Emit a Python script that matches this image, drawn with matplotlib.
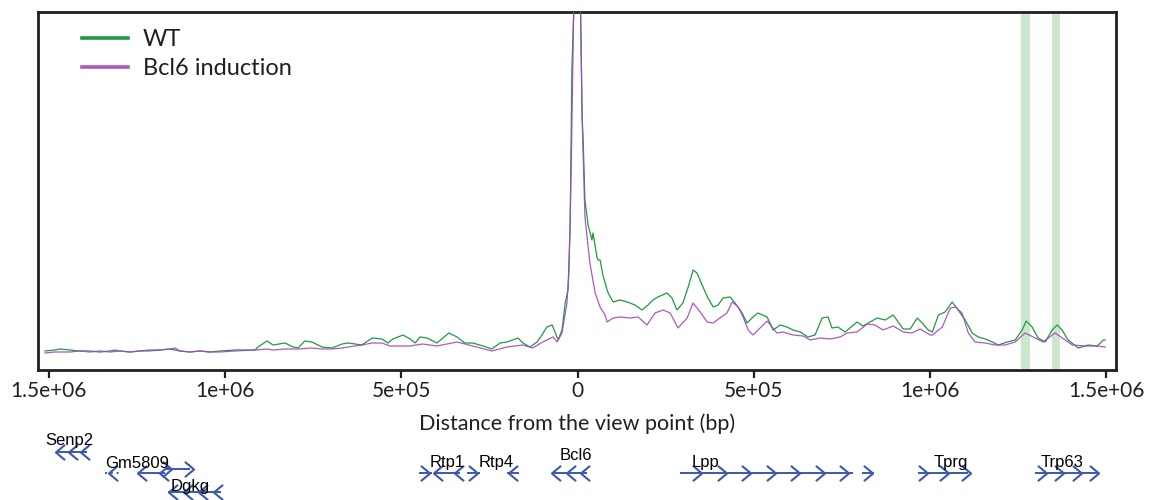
import numpy as np
import matplotlib
matplotlib.use("Agg")
import matplotlib.pyplot as plt
from matplotlib.path import Path

plt.rcParams['font.family'] = ['Lato', 'DejaVu Sans']

# ---------------- data (positions in kb from the view point, signal in arbitrary units) -------------
wt_pos = [-1511, -1483, -1469, -1441, -1413, -1384, -1356, -1327, -1313, -1299, -1270, -1242, -1214,
          -1185, -1157, -1128, -1100, -1072, -1043, -1015, -972, -915, -907, -881, -864, -830, -807,
          -793, -774, -754, -725, -697, -668, -651, -612, -583, -555, -538, -524, -495, -475, -461,
          -447, -427, -399, -382, -365, -342, -320, -297, -268, -243, -220, -200, -169, -155, -135,
          -115, -101, -87, -72, -64, -55, -44, -35, -27, -21, -16, -7, 0, 7, 13, 16, 21, 30, 41, 44,
          55, 58, 64, 72, 84, 87, 101, 121, 141, 163, 183, 200, 214, 228, 254, 268, 282, 299, 314,
          328, 339, 356, 370, 385, 399, 413, 433, 447, 467, 481, 498, 512, 538, 555, 575, 594, 612,
          632, 654, 674, 694, 711, 722, 739, 759, 773, 793, 810, 830, 850, 873, 896, 910, 924, 944,
          964, 978, 995, 1007, 1024, 1043, 1063, 1080, 1100, 1120, 1137, 1157, 1177, 1194, 1219,
          1242, 1262, 1273, 1290, 1307, 1327, 1347, 1361, 1375, 1392, 1421, 1449, 1475, 1492, 1497]
wt_val = [19, 20, 21, 20, 19, 19, 18, 19, 20, 19, 18, 19, 20,
          20, 21, 19, 18, 19, 18, 19, 20, 20, 23, 29, 25, 27, 23,
          22, 29, 28, 23, 22, 26, 27, 25, 32, 31, 27, 31, 35, 31, 27,
          33, 32, 27, 32, 37, 33, 27, 27, 24, 21, 27, 28, 32, 27, 23,
          28, 35, 43, 45, 38, 30, 40, 67, 80, 143, 300, 400, 420, 400, 253, 230, 170, 145, 130, 137,
          113, 110, 110, 95, 80, 77, 68, 70, 68, 65, 60, 65, 70, 73, 77, 72, 60, 67, 83,
          100, 97, 83, 72, 63, 65, 72, 73, 67, 57, 47, 53, 57, 53, 40, 45, 43, 40,
          38, 33, 35, 52, 53, 42, 43, 38, 42, 48, 44, 48, 52, 50, 55, 48, 41, 41,
          52, 47, 40, 38, 55, 58, 68, 60, 50, 37, 33, 31, 28, 25, 28,
          30, 40, 49, 43, 32, 28, 40, 45, 40, 30, 22, 25, 24, 30, 30]

bcl6_pos = [-1511, -1483, -1441, -1413, -1384, -1356, -1327, -1299, -1270, -1242, -1214, -1185, -1157,
            -1142, -1128, -1100, -1072, -1043, -1015, -972, -915, -881, -864, -830, -793, -754, -725,
            -697, -668, -651, -612, -583, -555, -532, -475, -440, -399, -342, -297, -243, -200, -155,
            -127, -99, -69, -58, -44, -30, -24, -18, -10, 0, 7, 13, 21, 35, 50, 64, 78, 84, 101, 121,
            149, 172, 197, 220, 243, 263, 285, 311, 328, 348, 368, 385, 404, 424, 439, 456, 470, 484,
            498, 518, 538, 552, 566, 583, 612, 640, 660, 688, 717, 745, 765, 793, 822, 844, 867, 896,
            924, 949, 972, 1001, 1007, 1035, 1058, 1072, 1091, 1109, 1128, 1157, 1185, 1213, 1242,
            1270, 1299, 1321, 1355, 1384, 1404, 1441, 1475, 1497]
bcl6_val = [17, 18, 18, 19, 18, 19, 18, 19, 18, 19, 19, 20, 21,
            22, 19, 18, 19, 18, 18, 19, 20, 21, 20, 21, 21, 22, 21,
            21, 22, 23, 25, 27, 27, 24, 24, 26, 24, 28, 24, 19, 23, 25,
            22, 28, 33, 28, 37, 67, 100, 200, 380, 420, 400, 253, 153, 107, 77, 63, 55, 48, 52, 53,
            52, 53, 45, 57, 60, 57, 42, 52, 67, 58, 48, 47, 52, 57, 68, 63, 53, 40,
            35, 42, 49, 43, 37, 38, 35, 34, 30, 32, 31, 33, 37, 38, 46, 45, 40, 44,
            38, 37, 41, 35, 35, 43, 62, 63, 57, 37, 28, 27, 25, 25, 28,
            37, 32, 28, 37, 30, 25, 24, 24, 23]

highlight_kb = [(1259, 1284), (1347, 1369)]

tick_kb = [-1500, -1000, -500, 0, 500, 1000, 1500]
tick_labels = ["1.5e+06", "1e+06", "5e+05", "0", "5e+05", "1e+06", "1.5e+06"]

gene_names = ["Senp2", "", "Gm5809", "", "Dgkg", "", "Rtp1", "", "Rtp4", "Bcl6", "Lpp", "", "Tprg", "Trp63"]
gene_start = [-1477, -1341, -1242, -1171, -1162, -450, -404, -314, -200, -70, 291, 807, 966, 1299]
gene_end = [-1392, -1296, -1171, -1100, -1012, -413, -334, -277, -166, 27, 782, 842, 1109, 1475]
gene_strand = [-1, -1, -1, 1, -1, 1, -1, 1, -1, -1, 1, 1, 1, 1]

# ---------------- layout ----------------
gene_row_y = [452, 473, 473, 469, 492, 473, 473, 473, 473, 473, 473, 473, 473, 473]
label_x_kb = [-1441, None, -1250, None, -1100, None, -370, None, -231, -4, 362, None, 1060, 1375]
label_y = [440, None, 463, None, 486, None, 462, None, 462, 455, 463, None, 463, 463]
gene_dotted = [False, True, False, False, False, False, False, False, False, False, False, False, False, False]

GREEN = "#1f9a3f"
PURPLE = "#a646bd"
BLUE = "#3b58ad"
DARK = "#231f20"

fig = plt.figure(figsize=(11.51, 5.0), dpi=100)
ax = fig.add_axes([38 / 1151, 1 - 370 / 500, (1116 - 38) / 1151, (370 - 12) / 500])

for a, b in highlight_kb:
    ax.axvspan(a * 1e3, b * 1e3, color="#cde7cf", zorder=0, lw=0)

ax.plot(np.array(wt_pos) * 1e3, wt_val, color=GREEN, lw=0.9, label="WT", zorder=2)
ax.plot(np.array(bcl6_pos) * 1e3, bcl6_val, color=PURPLE, lw=0.9, label="Bcl6 induction", zorder=3, alpha=0.9)

ax.set_xlim(-1531e3, 1528e3)
ax.set_ylim(0, 358)
ax.set_yticks([])
ax.set_xticks(np.array(tick_kb) * 1e3)
ax.set_xticklabels(tick_labels)
ax.tick_params(axis="x", direction="out", length=6, width=1.6, color=DARK, labelsize=15,
               labelcolor=DARK, pad=2)
for s in ax.spines.values():
    s.set_linewidth(2.0)
    s.set_color(DARK)
ax.set_xlabel("Distance from the view point (bp)", fontsize=15.5, color=DARK, labelpad=9)

leg = ax.legend(loc="upper left", bbox_to_anchor=(0.0408, 0.952), frameon=False, fontsize=17,
                handlelength=1.95, handletextpad=0.64, labelspacing=0.33, borderpad=0,
                borderaxespad=0)
for t in leg.get_texts():
    t.set_color(DARK)
for h in leg.get_lines():
    h.set_linewidth(2.6)

# ---------------- gene track ----------------
gax = fig.add_axes([38 / 1151, 0, (1116 - 38) / 1151, 75 / 500])
gax.set_xlim(-1531e3, 1528e3)
gax.set_ylim(500, 425)
gax.axis("off")

chev_r = Path([(-0.6, 1.0), (0.6, 0.0), (-0.6, -1.0)], [Path.MOVETO, Path.LINETO, Path.LINETO])
chev_l = Path([(0.6, 1.0), (-0.6, 0.0), (0.6, -1.0)], [Path.MOVETO, Path.LINETO, Path.LINETO])

for i in range(len(gene_start)):
    s, e = gene_start[i] * 1e3, gene_end[i] * 1e3
    y = gene_row_y[i]
    ls = (0, (1, 2)) if gene_dotted[i] else "-"
    gax.plot([s, e], [y, y], color=BLUE, lw=1.4, ls=ls, solid_capstyle="butt")
    length = gene_end[i] - gene_start[i]
    n = min(7, max(1, int(length / 75) + 2)) if length > 50 else 1
    xs = np.linspace(s + 0.1 * (e - s), e - 0.05 * (e - s), n) if n > 1 else [0.5 * (s + e)]
    gax.plot(xs, [y] * len(xs), ls="none", marker=chev_r if gene_strand[i] > 0 else chev_l,
             markersize=11, markerfacecolor="none", markeredgecolor=BLUE, markeredgewidth=1.5)
    if gene_names[i]:
        gax.text(label_x_kb[i] * 1e3, label_y[i], gene_names[i], ha="center", va="center",
                 fontsize=12, color="black", family=["Liberation Sans", "DejaVu Sans"])

fig.savefig("out.png", dpi=100)
